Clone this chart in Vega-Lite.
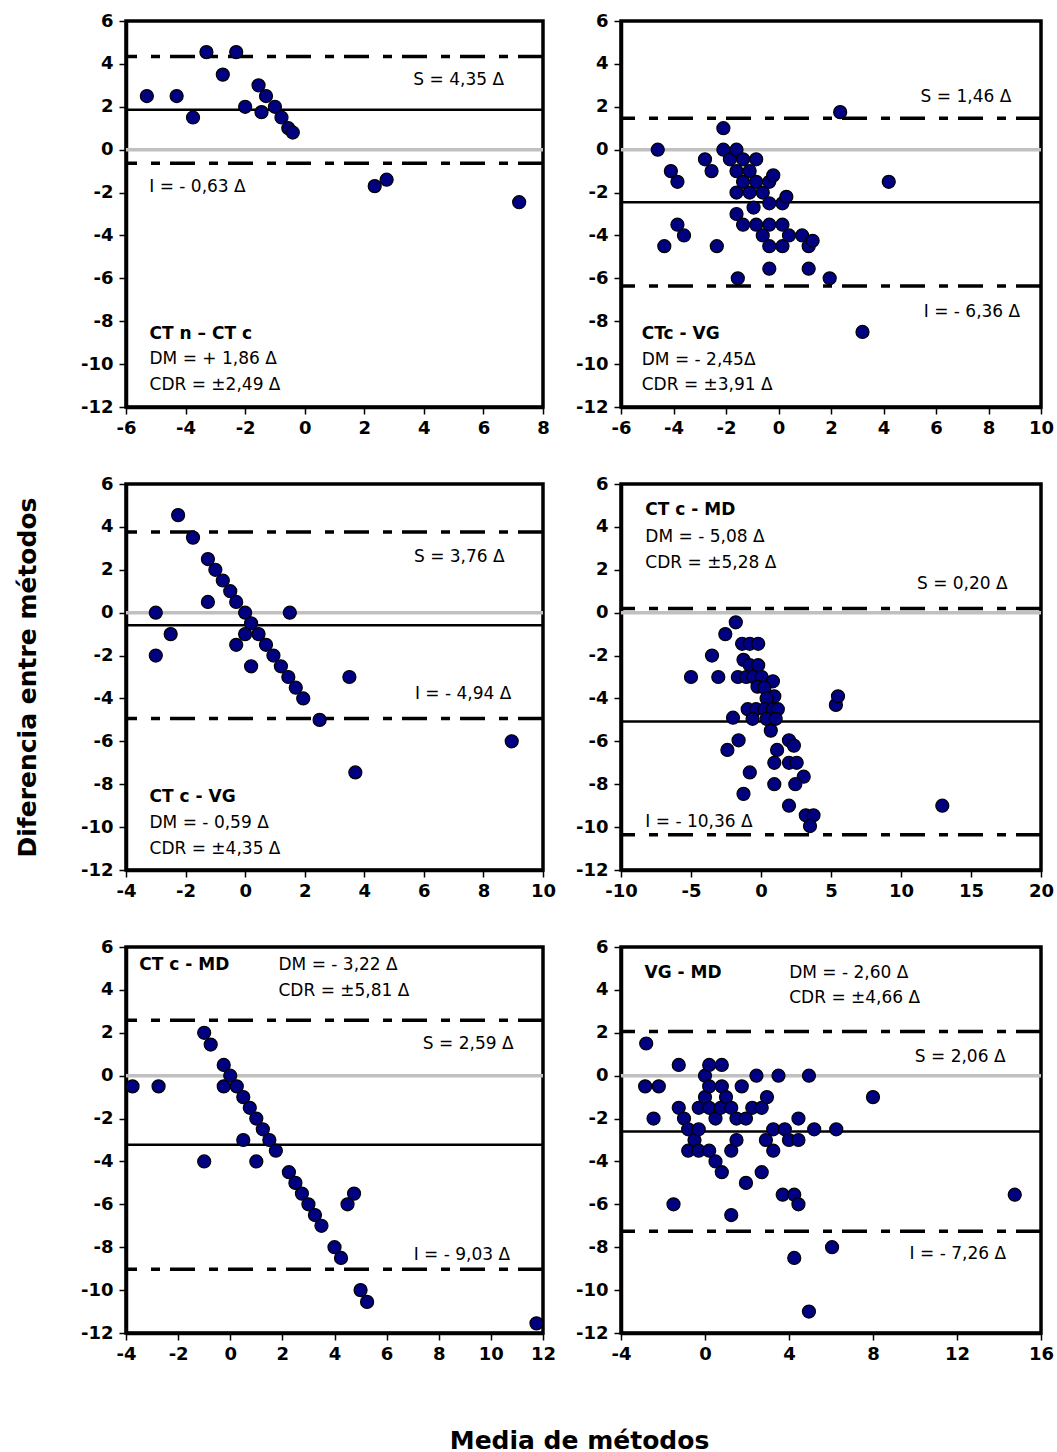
{
  "$schema": "https://vega.github.io/schema/vega-lite/v6.json",
  "background": "white",
  "padding": {"left": 13, "top": 10, "right": 5, "bottom": 5},
  "title": {"text": "Media de métodos", "orient": "bottom", "anchor": "middle", "font": "DejaVu Sans", "fontSize": 25, "fontWeight": "bold", "color": "black", "offset": 64, "dx": 45},
  "bounds": "flush",
  "columns": 2,
  "spacing": {"row": 77, "column": 78},
  "config": {
    "font": "DejaVu Sans",
    "view": {"stroke": "black", "strokeWidth": 3.5},
    "axis": {
      "grid": false, "domainColor": "black", "domainWidth": 3.5,
      "tickColor": "black", "tickWidth": 1.5, "tickSize": 7,
      "labelFont": "DejaVu Sans", "labelFontSize": 18, "labelFontWeight": "bold", "labelColor": "black",
      "labelOverlap": false, "labelFlush": false,
      "labelExpr": "replace(datum.label, '−', '-')",
      "titleFont": "DejaVu Sans", "titleFontSize": 25, "titleFontWeight": "bold", "titleColor": "black"
    },
    "axisX": {"labelPadding": 5},
    "axisY": {"labelPadding": 6},
    "text": {"font": "DejaVu Sans", "fontSize": 17, "baseline": "middle", "align": "center", "color": "black"}
  },
  "datasets": {
    "puntos": [
      {"grafico": 1, "media": -5.3, "diferencia": 2.5}, {"grafico": 1, "media": -4.3, "diferencia": 2.5}, {"grafico": 1, "media": -3.75, "diferencia": 1.5}, {"grafico": 1, "media": -3.3, "diferencia": 4.55}, {"grafico": 1, "media": -2.75, "diferencia": 3.5}, {"grafico": 1, "media": -2.3, "diferencia": 4.55}, {"grafico": 1, "media": -2.0, "diferencia": 2.0}, {"grafico": 1, "media": -1.55, "diferencia": 3.0}, {"grafico": 1, "media": -1.45, "diferencia": 1.75}, {"grafico": 1, "media": -1.3, "diferencia": 2.5}, {"grafico": 1, "media": -1.0, "diferencia": 2.0}, {"grafico": 1, "media": -0.78, "diferencia": 1.5}, {"grafico": 1, "media": -0.55, "diferencia": 1.0}, {"grafico": 1, "media": -0.4, "diferencia": 0.8}, {"grafico": 1, "media": 2.35, "diferencia": -1.7}, {"grafico": 1, "media": 2.75, "diferencia": -1.4}, {"grafico": 1, "media": 7.2, "diferencia": -2.45},

      {"grafico": 2, "media": -4.6, "diferencia": 0}, {"grafico": 2, "media": -4.1, "diferencia": -1.0}, {"grafico": 2, "media": -3.85, "diferencia": -1.5}, {"grafico": 2, "media": -3.85, "diferencia": -3.5}, {"grafico": 2, "media": -3.6, "diferencia": -4.0}, {"grafico": 2, "media": -4.35, "diferencia": -4.5}, {"grafico": 2, "media": -2.8, "diferencia": -0.45}, {"grafico": 2, "media": -2.55, "diferencia": -1.0}, {"grafico": 2, "media": -2.35, "diferencia": -4.5}, {"grafico": 2, "media": -2.1, "diferencia": 1.0}, {"grafico": 2, "media": -2.1, "diferencia": 0}, {"grafico": 2, "media": -1.85, "diferencia": -0.45}, {"grafico": 2, "media": -1.6, "diferencia": 0}, {"grafico": 2, "media": -1.6, "diferencia": -1.0}, {"grafico": 2, "media": -1.6, "diferencia": -2.0}, {"grafico": 2, "media": -1.6, "diferencia": -3.0}, {"grafico": 2, "media": -1.55, "diferencia": -6.0}, {"grafico": 2, "media": -1.35, "diferencia": -0.45}, {"grafico": 2, "media": -1.35, "diferencia": -1.5}, {"grafico": 2, "media": -1.35, "diferencia": -3.5}, {"grafico": 2, "media": -1.1, "diferencia": -1.0}, {"grafico": 2, "media": -1.1, "diferencia": -2.0}, {"grafico": 2, "media": -0.95, "diferencia": -2.7}, {"grafico": 2, "media": -0.85, "diferencia": -0.45}, {"grafico": 2, "media": -0.85, "diferencia": -1.5}, {"grafico": 2, "media": -0.85, "diferencia": -3.5}, {"grafico": 2, "media": -0.6, "diferencia": -2.0}, {"grafico": 2, "media": -0.6, "diferencia": -4.0}, {"grafico": 2, "media": -0.35, "diferencia": -1.5}, {"grafico": 2, "media": -0.2, "diferencia": -1.2}, {"grafico": 2, "media": -0.35, "diferencia": -2.5}, {"grafico": 2, "media": -0.35, "diferencia": -3.5}, {"grafico": 2, "media": -0.35, "diferencia": -4.5}, {"grafico": 2, "media": -0.35, "diferencia": -5.55}, {"grafico": 2, "media": 0.15, "diferencia": -2.5}, {"grafico": 2, "media": 0.3, "diferencia": -2.2}, {"grafico": 2, "media": 0.15, "diferencia": -3.5}, {"grafico": 2, "media": 0.15, "diferencia": -4.5}, {"grafico": 2, "media": 0.4, "diferencia": -4.0}, {"grafico": 2, "media": 0.9, "diferencia": -4.0}, {"grafico": 2, "media": 1.15, "diferencia": -4.5}, {"grafico": 2, "media": 1.3, "diferencia": -4.25}, {"grafico": 2, "media": 1.15, "diferencia": -5.55}, {"grafico": 2, "media": 1.95, "diferencia": -6.0}, {"grafico": 2, "media": 2.35, "diferencia": 1.75}, {"grafico": 2, "media": 3.2, "diferencia": -8.5}, {"grafico": 2, "media": 4.2, "diferencia": -1.5},

      {"grafico": 3, "media": -2.25, "diferencia": 4.55}, {"grafico": 3, "media": -1.75, "diferencia": 3.5}, {"grafico": 3, "media": -1.25, "diferencia": 2.5}, {"grafico": 3, "media": -1.0, "diferencia": 2.0}, {"grafico": 3, "media": -0.75, "diferencia": 1.5}, {"grafico": 3, "media": -0.5, "diferencia": 1.0}, {"grafico": 3, "media": -0.3, "diferencia": 0.5}, {"grafico": 3, "media": -1.25, "diferencia": 0.5}, {"grafico": 3, "media": 0, "diferencia": 0}, {"grafico": 3, "media": -3.0, "diferencia": 0}, {"grafico": 3, "media": -2.5, "diferencia": -1.0}, {"grafico": 3, "media": -3.0, "diferencia": -2.0}, {"grafico": 3, "media": 0.2, "diferencia": -0.5}, {"grafico": 3, "media": 0, "diferencia": -1.0}, {"grafico": 3, "media": -0.3, "diferencia": -1.5}, {"grafico": 3, "media": 0.45, "diferencia": -1.0}, {"grafico": 3, "media": 0.2, "diferencia": -2.5}, {"grafico": 3, "media": 0.7, "diferencia": -1.5}, {"grafico": 3, "media": 0.95, "diferencia": -2.0}, {"grafico": 3, "media": 1.2, "diferencia": -2.5}, {"grafico": 3, "media": 1.45, "diferencia": -3.0}, {"grafico": 3, "media": 1.5, "diferencia": 0}, {"grafico": 3, "media": 1.7, "diferencia": -3.5}, {"grafico": 3, "media": 1.95, "diferencia": -4.0}, {"grafico": 3, "media": 2.5, "diferencia": -5.0}, {"grafico": 3, "media": 3.5, "diferencia": -3.0}, {"grafico": 3, "media": 3.7, "diferencia": -7.45}, {"grafico": 3, "media": 8.95, "diferencia": -6.0},

      {"grafico": 4, "media": -5.0, "diferencia": -3.0}, {"grafico": 4, "media": -3.5, "diferencia": -2.0}, {"grafico": 4, "media": -3.05, "diferencia": -3.0}, {"grafico": 4, "media": -2.55, "diferencia": -1.0}, {"grafico": 4, "media": -1.8, "diferencia": -0.45}, {"grafico": 4, "media": -2.0, "diferencia": -4.9}, {"grafico": 4, "media": -2.4, "diferencia": -6.4}, {"grafico": 4, "media": -1.6, "diferencia": -5.95}, {"grafico": 4, "media": -1.25, "diferencia": -8.45}, {"grafico": 4, "media": -0.8, "diferencia": -7.45}, {"grafico": 4, "media": -1.35, "diferencia": -1.45}, {"grafico": 4, "media": -0.8, "diferencia": -1.45}, {"grafico": 4, "media": -0.2, "diferencia": -1.45}, {"grafico": 4, "media": -1.25, "diferencia": -2.2}, {"grafico": 4, "media": -0.8, "diferencia": -2.45}, {"grafico": 4, "media": -0.2, "diferencia": -2.45}, {"grafico": 4, "media": -1.65, "diferencia": -3.0}, {"grafico": 4, "media": -1.05, "diferencia": -3.0}, {"grafico": 4, "media": -0.55, "diferencia": -3.0}, {"grafico": 4, "media": 0.05, "diferencia": -3.0}, {"grafico": 4, "media": 0.85, "diferencia": -3.2}, {"grafico": 4, "media": -0.25, "diferencia": -3.45}, {"grafico": 4, "media": 0.25, "diferencia": -3.5}, {"grafico": 4, "media": 0.95, "diferencia": -3.9}, {"grafico": 4, "media": 0.4, "diferencia": -4.0}, {"grafico": 4, "media": -0.95, "diferencia": -4.5}, {"grafico": 4, "media": -0.35, "diferencia": -4.5}, {"grafico": 4, "media": 0.25, "diferencia": -4.5}, {"grafico": 4, "media": 0.85, "diferencia": -4.5}, {"grafico": 4, "media": 1.2, "diferencia": -4.5}, {"grafico": 4, "media": -0.6, "diferencia": -4.95}, {"grafico": 4, "media": 0.4, "diferencia": -4.95}, {"grafico": 4, "media": 1.05, "diferencia": -4.95}, {"grafico": 4, "media": 0.7, "diferencia": -5.5}, {"grafico": 4, "media": 2.0, "diferencia": -5.95}, {"grafico": 4, "media": 2.35, "diferencia": -6.2}, {"grafico": 4, "media": 1.15, "diferencia": -6.4}, {"grafico": 4, "media": 0.95, "diferencia": -7.0}, {"grafico": 4, "media": 2.0, "diferencia": -7.0}, {"grafico": 4, "media": 2.55, "diferencia": -7.0}, {"grafico": 4, "media": 3.05, "diferencia": -7.65}, {"grafico": 4, "media": 0.95, "diferencia": -8.0}, {"grafico": 4, "media": 2.45, "diferencia": -8.0}, {"grafico": 4, "media": 2.0, "diferencia": -9.0}, {"grafico": 4, "media": 3.2, "diferencia": -9.45}, {"grafico": 4, "media": 3.75, "diferencia": -9.45}, {"grafico": 4, "media": 3.5, "diferencia": -9.95}, {"grafico": 4, "media": 5.35, "diferencia": -4.3}, {"grafico": 4, "media": 5.5, "diferencia": -3.9}, {"grafico": 4, "media": 12.95, "diferencia": -9.0},

      {"grafico": 5, "media": -3.75, "diferencia": -0.5}, {"grafico": 5, "media": -2.75, "diferencia": -0.5}, {"grafico": 5, "media": -1.0, "diferencia": 2.0}, {"grafico": 5, "media": -0.75, "diferencia": 1.45}, {"grafico": 5, "media": -1.0, "diferencia": -4.0}, {"grafico": 5, "media": -0.25, "diferencia": 0.5}, {"grafico": 5, "media": -0.25, "diferencia": -0.5}, {"grafico": 5, "media": 0, "diferencia": 0}, {"grafico": 5, "media": 0.25, "diferencia": -0.5}, {"grafico": 5, "media": 0.5, "diferencia": -1.0}, {"grafico": 5, "media": 0.5, "diferencia": -3.0}, {"grafico": 5, "media": 0.75, "diferencia": -1.5}, {"grafico": 5, "media": 1.0, "diferencia": -2.0}, {"grafico": 5, "media": 1.0, "diferencia": -4.0}, {"grafico": 5, "media": 1.25, "diferencia": -2.5}, {"grafico": 5, "media": 1.5, "diferencia": -3.0}, {"grafico": 5, "media": 1.75, "diferencia": -3.5}, {"grafico": 5, "media": 2.25, "diferencia": -4.5}, {"grafico": 5, "media": 2.5, "diferencia": -5.0}, {"grafico": 5, "media": 2.75, "diferencia": -5.5}, {"grafico": 5, "media": 3.0, "diferencia": -6.0}, {"grafico": 5, "media": 3.25, "diferencia": -6.5}, {"grafico": 5, "media": 3.5, "diferencia": -7.0}, {"grafico": 5, "media": 4.0, "diferencia": -8.0}, {"grafico": 5, "media": 4.25, "diferencia": -8.5}, {"grafico": 5, "media": 4.5, "diferencia": -6.0}, {"grafico": 5, "media": 4.75, "diferencia": -5.5}, {"grafico": 5, "media": 5.0, "diferencia": -10.0}, {"grafico": 5, "media": 5.25, "diferencia": -10.55}, {"grafico": 5, "media": 11.75, "diferencia": -11.55},

      {"grafico": 6, "media": -2.8, "diferencia": 1.5}, {"grafico": 6, "media": -2.85, "diferencia": -0.5}, {"grafico": 6, "media": -2.2, "diferencia": -0.5}, {"grafico": 6, "media": -2.45, "diferencia": -2.0}, {"grafico": 6, "media": -1.5, "diferencia": -6.0}, {"grafico": 6, "media": -1.25, "diferencia": 0.5}, {"grafico": 6, "media": -1.25, "diferencia": -1.5}, {"grafico": 6, "media": -1.0, "diferencia": -2.0}, {"grafico": 6, "media": -0.8, "diferencia": -2.5}, {"grafico": 6, "media": -0.8, "diferencia": -3.5}, {"grafico": 6, "media": -0.5, "diferencia": -3.0}, {"grafico": 6, "media": -0.3, "diferencia": -1.5}, {"grafico": 6, "media": -0.3, "diferencia": -2.5}, {"grafico": 6, "media": -0.3, "diferencia": -3.5}, {"grafico": 6, "media": 0, "diferencia": 0}, {"grafico": 6, "media": 0, "diferencia": -1.0}, {"grafico": 6, "media": 0.2, "diferencia": 0.5}, {"grafico": 6, "media": 0.2, "diferencia": -0.5}, {"grafico": 6, "media": 0.2, "diferencia": -1.5}, {"grafico": 6, "media": 0.2, "diferencia": -3.5}, {"grafico": 6, "media": 0.5, "diferencia": -2.0}, {"grafico": 6, "media": 0.5, "diferencia": -4.0}, {"grafico": 6, "media": 0.75, "diferencia": -1.5}, {"grafico": 6, "media": 0.8, "diferencia": 0.5}, {"grafico": 6, "media": 0.8, "diferencia": -0.5}, {"grafico": 6, "media": 0.8, "diferencia": -4.5}, {"grafico": 6, "media": 1.0, "diferencia": -1.0}, {"grafico": 6, "media": 1.25, "diferencia": -1.5}, {"grafico": 6, "media": 1.25, "diferencia": -3.5}, {"grafico": 6, "media": 1.25, "diferencia": -6.5}, {"grafico": 6, "media": 1.5, "diferencia": -2.0}, {"grafico": 6, "media": 1.5, "diferencia": -3.0}, {"grafico": 6, "media": 1.75, "diferencia": -0.5}, {"grafico": 6, "media": 1.95, "diferencia": -2.0}, {"grafico": 6, "media": 1.95, "diferencia": -5.0}, {"grafico": 6, "media": 2.25, "diferencia": -1.5}, {"grafico": 6, "media": 2.45, "diferencia": 0}, {"grafico": 6, "media": 2.7, "diferencia": -1.5}, {"grafico": 6, "media": 2.95, "diferencia": -1.0}, {"grafico": 6, "media": 2.7, "diferencia": -4.5}, {"grafico": 6, "media": 2.9, "diferencia": -3.0}, {"grafico": 6, "media": 3.25, "diferencia": -2.5}, {"grafico": 6, "media": 3.25, "diferencia": -3.5}, {"grafico": 6, "media": 3.5, "diferencia": 0}, {"grafico": 6, "media": 3.7, "diferencia": -5.55}, {"grafico": 6, "media": 3.8, "diferencia": -2.5}, {"grafico": 6, "media": 4.0, "diferencia": -3.0}, {"grafico": 6, "media": 4.25, "diferencia": -5.55}, {"grafico": 6, "media": 4.25, "diferencia": -8.5}, {"grafico": 6, "media": 4.45, "diferencia": -2.0}, {"grafico": 6, "media": 4.45, "diferencia": -3.0}, {"grafico": 6, "media": 4.45, "diferencia": -6.0}, {"grafico": 6, "media": 4.95, "diferencia": 0}, {"grafico": 6, "media": 4.95, "diferencia": -11.0}, {"grafico": 6, "media": 5.2, "diferencia": -2.5}, {"grafico": 6, "media": 6.05, "diferencia": -8.0}, {"grafico": 6, "media": 6.25, "diferencia": -2.5}, {"grafico": 6, "media": 8.0, "diferencia": -1.0}, {"grafico": 6, "media": 14.75, "diferencia": -5.55}
    ],
    "limites": [
      {"grafico": 1, "linea": "S", "valor": 4.35}, {"grafico": 1, "linea": "DM", "valor": 1.86}, {"grafico": 1, "linea": "I", "valor": -0.63},
      {"grafico": 2, "linea": "S", "valor": 1.46}, {"grafico": 2, "linea": "DM", "valor": -2.45}, {"grafico": 2, "linea": "I", "valor": -6.36},
      {"grafico": 3, "linea": "S", "valor": 3.76}, {"grafico": 3, "linea": "DM", "valor": -0.59}, {"grafico": 3, "linea": "I", "valor": -4.94},
      {"grafico": 4, "linea": "S", "valor": 0.20}, {"grafico": 4, "linea": "DM", "valor": -5.08}, {"grafico": 4, "linea": "I", "valor": -10.36},
      {"grafico": 5, "linea": "S", "valor": 2.59}, {"grafico": 5, "linea": "DM", "valor": -3.22}, {"grafico": 5, "linea": "I", "valor": -9.03},
      {"grafico": 6, "linea": "S", "valor": 2.06}, {"grafico": 6, "linea": "DM", "valor": -2.60}, {"grafico": 6, "linea": "I", "valor": -7.26}
    ]
  },
  "concat": [
    {
      "width": 417, "height": 386,
      "layer": [
        {"data": {"values": [{}]}, "mark": {"type": "rule", "color": "#c0c0c0", "strokeWidth": 3.5}, "encoding": {"y": {"datum": 0, "title": null}}},
        {"data": {"name": "limites"}, "transform": [{"filter": "datum.grafico == 1 && datum.linea != 'DM'"}], "mark": {"type": "rule", "color": "black", "strokeWidth": 3.5, "strokeDash": [25, 10, 9, 14]}, "encoding": {"y": {"field": "valor", "type": "quantitative", "title": null}}},
        {"data": {"name": "limites"}, "transform": [{"filter": "datum.grafico == 1 && datum.linea == 'DM'"}], "mark": {"type": "rule", "color": "black", "strokeWidth": 2.5}, "encoding": {"y": {"field": "valor", "type": "quantitative", "title": null}}},
        {"data": {"name": "puntos"}, "transform": [{"filter": "datum.grafico == 1"}], "mark": {"type": "circle", "size": 170, "fill": "#000080", "stroke": "black", "strokeWidth": 1.2, "opacity": 1},
          "encoding": {
            "x": {"field": "media", "type": "quantitative", "title": null, "scale": {"domain": [-6, 8], "nice": false, "zero": false}, "axis": {"values": [-6, -4, -2, 0, 2, 4, 6, 8]}},
            "y": {"field": "diferencia", "type": "quantitative", "title": null, "scale": {"domain": [-12, 6], "nice": false, "zero": false}, "axis": {"values": [-12, -10, -8, -6, -4, -2, 0, 2, 4, 6]}}
          }},
        {"data": {"values": [{}]}, "mark": {"type": "text", "text": "S = 4,35 Δ"}, "encoding": {"x": {"datum": 5.17, "title": null}, "y": {"datum": 3.23, "title": null}}},
        {"data": {"values": [{}]}, "mark": {"type": "text", "text": "I = - 0,63 Δ"}, "encoding": {"x": {"datum": -3.6, "title": null}, "y": {"datum": -1.73, "title": null}}},
        {"data": {"values": [{}]}, "mark": {"type": "text", "align": "left", "fontWeight": "bold", "text": "CT n – CT c"}, "encoding": {"x": {"datum": -5.21, "title": null}, "y": {"datum": -8.58, "title": null}}},
        {"data": {"values": [{}]}, "mark": {"type": "text", "align": "left", "text": "DM = + 1,86 Δ"}, "encoding": {"x": {"datum": -5.21, "title": null}, "y": {"datum": -9.78, "title": null}}},
        {"data": {"values": [{}]}, "mark": {"type": "text", "align": "left", "text": "CDR = ±2,49 Δ"}, "encoding": {"x": {"datum": -5.21, "title": null}, "y": {"datum": -10.99, "title": null}}}
      ]
    },
    {
      "width": 420, "height": 386,
      "layer": [
        {"data": {"values": [{}]}, "mark": {"type": "rule", "color": "#c0c0c0", "strokeWidth": 3.5}, "encoding": {"y": {"datum": 0, "title": null}}},
        {"data": {"name": "limites"}, "transform": [{"filter": "datum.grafico == 2 && datum.linea != 'DM'"}], "mark": {"type": "rule", "color": "black", "strokeWidth": 3.5, "strokeDash": [25, 10, 9, 14]}, "encoding": {"y": {"field": "valor", "type": "quantitative", "title": null}}},
        {"data": {"name": "limites"}, "transform": [{"filter": "datum.grafico == 2 && datum.linea == 'DM'"}], "mark": {"type": "rule", "color": "black", "strokeWidth": 2.5}, "encoding": {"y": {"field": "valor", "type": "quantitative", "title": null}}},
        {"data": {"name": "puntos"}, "transform": [{"filter": "datum.grafico == 2"}], "mark": {"type": "circle", "size": 170, "fill": "#000080", "stroke": "black", "strokeWidth": 1.2, "opacity": 1},
          "encoding": {
            "x": {"field": "media", "type": "quantitative", "title": null, "scale": {"domain": [-6, 10], "nice": false, "zero": false}, "axis": {"values": [-6, -4, -2, 0, 2, 4, 6, 8, 10]}},
            "y": {"field": "diferencia", "type": "quantitative", "title": null, "scale": {"domain": [-12, 6], "nice": false, "zero": false}, "axis": {"values": [-12, -10, -8, -6, -4, -2, 0, 2, 4, 6]}}
          }},
        {"data": {"values": [{}]}, "mark": {"type": "text", "text": "S = 1,46 Δ"}, "encoding": {"x": {"datum": 7.14, "title": null}, "y": {"datum": 2.46, "title": null}}},
        {"data": {"values": [{}]}, "mark": {"type": "text", "text": "I = - 6,36 Δ"}, "encoding": {"x": {"datum": 7.37, "title": null}, "y": {"datum": -7.59, "title": null}}},
        {"data": {"values": [{}]}, "mark": {"type": "text", "align": "left", "fontWeight": "bold", "text": "CTc - VG"}, "encoding": {"x": {"datum": -5.21, "title": null}, "y": {"datum": -8.6, "title": null}}},
        {"data": {"values": [{}]}, "mark": {"type": "text", "align": "left", "text": "DM = - 2,45Δ"}, "encoding": {"x": {"datum": -5.21, "title": null}, "y": {"datum": -9.81, "title": null}}},
        {"data": {"values": [{}]}, "mark": {"type": "text", "align": "left", "text": "CDR = ±3,91 Δ"}, "encoding": {"x": {"datum": -5.21, "title": null}, "y": {"datum": -10.97, "title": null}}}
      ]
    },
    {
      "width": 417, "height": 386,
      "layer": [
        {"data": {"values": [{}]}, "mark": {"type": "rule", "color": "#c0c0c0", "strokeWidth": 3.5}, "encoding": {"y": {"datum": 0, "title": "Diferencia entre métodos"}}},
        {"data": {"name": "limites"}, "transform": [{"filter": "datum.grafico == 3 && datum.linea != 'DM'"}], "mark": {"type": "rule", "color": "black", "strokeWidth": 3.5, "strokeDash": [25, 10, 9, 14]}, "encoding": {"y": {"field": "valor", "type": "quantitative", "title": "Diferencia entre métodos"}}},
        {"data": {"name": "limites"}, "transform": [{"filter": "datum.grafico == 3 && datum.linea == 'DM'"}], "mark": {"type": "rule", "color": "black", "strokeWidth": 2.5}, "encoding": {"y": {"field": "valor", "type": "quantitative", "title": "Diferencia entre métodos"}}},
        {"data": {"name": "puntos"}, "transform": [{"filter": "datum.grafico == 3"}], "mark": {"type": "circle", "size": 170, "fill": "#000080", "stroke": "black", "strokeWidth": 1.2, "opacity": 1},
          "encoding": {
            "x": {"field": "media", "type": "quantitative", "title": null, "scale": {"domain": [-4, 10], "nice": false, "zero": false}, "axis": {"values": [-4, -2, 0, 2, 4, 6, 8, 10]}},
            "y": {"field": "diferencia", "type": "quantitative", "title": "Diferencia entre métodos", "scale": {"domain": [-12, 6], "nice": false, "zero": false}, "axis": {"values": [-12, -10, -8, -6, -4, -2, 0, 2, 4, 6], "titlePadding": 40}}
          }},
        {"data": {"values": [{}]}, "mark": {"type": "text", "text": "S = 3,76 Δ"}, "encoding": {"x": {"datum": 7.19, "title": null}, "y": {"datum": 2.58, "title": "Diferencia entre métodos"}}},
        {"data": {"values": [{}]}, "mark": {"type": "text", "text": "I = - 4,94 Δ"}, "encoding": {"x": {"datum": 7.32, "title": null}, "y": {"datum": -3.81, "title": "Diferencia entre métodos"}}},
        {"data": {"values": [{}]}, "mark": {"type": "text", "align": "left", "fontWeight": "bold", "text": "CT c - VG"}, "encoding": {"x": {"datum": -3.21, "title": null}, "y": {"datum": -8.58, "title": "Diferencia entre métodos"}}},
        {"data": {"values": [{}]}, "mark": {"type": "text", "align": "left", "text": "DM = - 0,59 Δ"}, "encoding": {"x": {"datum": -3.21, "title": null}, "y": {"datum": -9.79, "title": "Diferencia entre métodos"}}},
        {"data": {"values": [{}]}, "mark": {"type": "text", "align": "left", "text": "CDR = ±4,35 Δ"}, "encoding": {"x": {"datum": -3.21, "title": null}, "y": {"datum": -11.0, "title": "Diferencia entre métodos"}}}
      ]
    },
    {
      "width": 420, "height": 386,
      "layer": [
        {"data": {"values": [{}]}, "mark": {"type": "rule", "color": "#c0c0c0", "strokeWidth": 3.5}, "encoding": {"y": {"datum": 0, "title": null}}},
        {"data": {"name": "limites"}, "transform": [{"filter": "datum.grafico == 4 && datum.linea != 'DM'"}], "mark": {"type": "rule", "color": "black", "strokeWidth": 3.5, "strokeDash": [25, 10, 9, 14]}, "encoding": {"y": {"field": "valor", "type": "quantitative", "title": null}}},
        {"data": {"name": "limites"}, "transform": [{"filter": "datum.grafico == 4 && datum.linea == 'DM'"}], "mark": {"type": "rule", "color": "black", "strokeWidth": 2.5}, "encoding": {"y": {"field": "valor", "type": "quantitative", "title": null}}},
        {"data": {"name": "puntos"}, "transform": [{"filter": "datum.grafico == 4"}], "mark": {"type": "circle", "size": 170, "fill": "#000080", "stroke": "black", "strokeWidth": 1.2, "opacity": 1},
          "encoding": {
            "x": {"field": "media", "type": "quantitative", "title": null, "scale": {"domain": [-10, 20], "nice": false, "zero": false}, "axis": {"values": [-10, -5, 0, 5, 10, 15, 20]}},
            "y": {"field": "diferencia", "type": "quantitative", "title": null, "scale": {"domain": [-12, 6], "nice": false, "zero": false}, "axis": {"values": [-12, -10, -8, -6, -4, -2, 0, 2, 4, 6]}}
          }},
        {"data": {"values": [{}]}, "mark": {"type": "text", "align": "left", "fontWeight": "bold", "text": "CT c - MD"}, "encoding": {"x": {"datum": -8.26, "title": null}, "y": {"datum": 4.79, "title": null}}},
        {"data": {"values": [{}]}, "mark": {"type": "text", "align": "left", "text": "DM = - 5,08 Δ"}, "encoding": {"x": {"datum": -8.26, "title": null}, "y": {"datum": 3.51, "title": null}}},
        {"data": {"values": [{}]}, "mark": {"type": "text", "align": "left", "text": "CDR = ±5,28 Δ"}, "encoding": {"x": {"datum": -8.26, "title": null}, "y": {"datum": 2.3, "title": null}}},
        {"data": {"values": [{}]}, "mark": {"type": "text", "text": "S = 0,20 Δ"}, "encoding": {"x": {"datum": 14.38, "title": null}, "y": {"datum": 1.32, "title": null}}},
        {"data": {"values": [{}]}, "mark": {"type": "text", "align": "left", "text": "I = - 10,36 Δ"}, "encoding": {"x": {"datum": -8.26, "title": null}, "y": {"datum": -9.75, "title": null}}}
      ]
    },
    {
      "width": 417, "height": 386,
      "layer": [
        {"data": {"values": [{}]}, "mark": {"type": "rule", "color": "#c0c0c0", "strokeWidth": 3.5}, "encoding": {"y": {"datum": 0, "title": null}}},
        {"data": {"name": "limites"}, "transform": [{"filter": "datum.grafico == 5 && datum.linea != 'DM'"}], "mark": {"type": "rule", "color": "black", "strokeWidth": 3.5, "strokeDash": [25, 10, 9, 14]}, "encoding": {"y": {"field": "valor", "type": "quantitative", "title": null}}},
        {"data": {"name": "limites"}, "transform": [{"filter": "datum.grafico == 5 && datum.linea == 'DM'"}], "mark": {"type": "rule", "color": "black", "strokeWidth": 2.5}, "encoding": {"y": {"field": "valor", "type": "quantitative", "title": null}}},
        {"data": {"name": "puntos"}, "transform": [{"filter": "datum.grafico == 5"}], "mark": {"type": "circle", "size": 170, "fill": "#000080", "stroke": "black", "strokeWidth": 1.2, "opacity": 1},
          "encoding": {
            "x": {"field": "media", "type": "quantitative", "title": null, "scale": {"domain": [-4, 12], "nice": false, "zero": false}, "axis": {"values": [-4, -2, 0, 2, 4, 6, 8, 10, 12]}},
            "y": {"field": "diferencia", "type": "quantitative", "title": null, "scale": {"domain": [-12, 6], "nice": false, "zero": false}, "axis": {"values": [-12, -10, -8, -6, -4, -2, 0, 2, 4, 6]}}
          }},
        {"data": {"values": [{}]}, "mark": {"type": "text", "align": "left", "fontWeight": "bold", "text": "CT c - MD"}, "encoding": {"x": {"datum": -3.49, "title": null}, "y": {"datum": 5.18, "title": null}}},
        {"data": {"values": [{}]}, "mark": {"type": "text", "align": "left", "text": "DM = - 3,22 Δ"}, "encoding": {"x": {"datum": 1.85, "title": null}, "y": {"datum": 5.18, "title": null}}},
        {"data": {"values": [{}]}, "mark": {"type": "text", "align": "left", "text": "CDR = ±5,81 Δ"}, "encoding": {"x": {"datum": 1.85, "title": null}, "y": {"datum": 3.93, "title": null}}},
        {"data": {"values": [{}]}, "mark": {"type": "text", "text": "S = 2,59 Δ"}, "encoding": {"x": {"datum": 9.13, "title": null}, "y": {"datum": 1.5, "title": null}}},
        {"data": {"values": [{}]}, "mark": {"type": "text", "text": "I = - 9,03 Δ"}, "encoding": {"x": {"datum": 8.89, "title": null}, "y": {"datum": -8.36, "title": null}}}
      ]
    },
    {
      "width": 420, "height": 386,
      "layer": [
        {"data": {"values": [{}]}, "mark": {"type": "rule", "color": "#c0c0c0", "strokeWidth": 3.5}, "encoding": {"y": {"datum": 0, "title": null}}},
        {"data": {"name": "limites"}, "transform": [{"filter": "datum.grafico == 6 && datum.linea != 'DM'"}], "mark": {"type": "rule", "color": "black", "strokeWidth": 3.5, "strokeDash": [25, 10, 9, 14]}, "encoding": {"y": {"field": "valor", "type": "quantitative", "title": null}}},
        {"data": {"name": "limites"}, "transform": [{"filter": "datum.grafico == 6 && datum.linea == 'DM'"}], "mark": {"type": "rule", "color": "black", "strokeWidth": 2.5}, "encoding": {"y": {"field": "valor", "type": "quantitative", "title": null}}},
        {"data": {"name": "puntos"}, "transform": [{"filter": "datum.grafico == 6"}], "mark": {"type": "circle", "size": 170, "fill": "#000080", "stroke": "black", "strokeWidth": 1.2, "opacity": 1},
          "encoding": {
            "x": {"field": "media", "type": "quantitative", "title": null, "scale": {"domain": [-4, 16], "nice": false, "zero": false}, "axis": {"values": [-4, 0, 4, 8, 12, 16]}},
            "y": {"field": "diferencia", "type": "quantitative", "title": null, "scale": {"domain": [-12, 6], "nice": false, "zero": false}, "axis": {"values": [-12, -10, -8, -6, -4, -2, 0, 2, 4, 6]}}
          }},
        {"data": {"values": [{}]}, "mark": {"type": "text", "align": "left", "fontWeight": "bold", "text": "VG - MD"}, "encoding": {"x": {"datum": -2.88, "title": null}, "y": {"datum": 4.79, "title": null}}},
        {"data": {"values": [{}]}, "mark": {"type": "text", "align": "left", "text": "DM = - 2,60 Δ"}, "encoding": {"x": {"datum": 4.01, "title": null}, "y": {"datum": 4.79, "title": null}}},
        {"data": {"values": [{}]}, "mark": {"type": "text", "align": "left", "text": "CDR = ±4,66 Δ"}, "encoding": {"x": {"datum": 4.01, "title": null}, "y": {"datum": 3.62, "title": null}}},
        {"data": {"values": [{}]}, "mark": {"type": "text", "text": "S = 2,06 Δ"}, "encoding": {"x": {"datum": 12.15, "title": null}, "y": {"datum": 0.88, "title": null}}},
        {"data": {"values": [{}]}, "mark": {"type": "text", "text": "I = - 7,26 Δ"}, "encoding": {"x": {"datum": 12.04, "title": null}, "y": {"datum": -8.32, "title": null}}}
      ]
    }
  ]
}
